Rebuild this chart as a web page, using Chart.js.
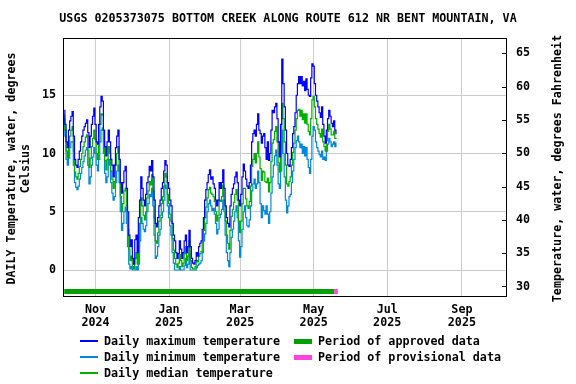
<!DOCTYPE html>
<html>
<head>
<meta charset="utf-8">
<script src="https://cdn.jsdelivr.net/npm/chart.js@4.4.1/dist/chart.umd.min.js"></script>
<style>
  html, body { margin: 0; padding: 0; background: #fff; }
</style>
</head>
<body>
<canvas id="chart" width="576" height="384"></canvas>
<script>
// x values are days after 2024-10-01
const chartTitle = 'USGS 0205373075 BOTTOM CREEK ALONG ROUTE 612 NR BENT MOUNTAIN, VA';
const firstDay = 5;

const dailyMax = [
  13.7, 12.5, 11.0, 10.5, 12.0, 12.8, 13.2, 13.6, 11.5, 9.5,
  9.0, 8.8, 9.5, 10.2, 11.0, 11.5, 12.0, 12.3, 12.6, 12.9,
  11.8, 10.5, 11.5, 12.5, 13.2, 13.9, 12.5, 11.0, 10.8, 12.5,
  14.0, 14.9, 14.5, 12.0, 10.6, 9.8, 11.0, 12.0, 11.0, 9.5,
  9.0, 8.0, 9.0, 10.5, 11.5, 12.0, 9.5, 7.5, 6.6, 7.5,
  8.5, 8.9, 7.0, 5.0, 3.0, 2.0, 2.6, 1.0, 0.5, 2.6,
  3.0, 1.5, 4.5, 6.0, 8.0, 7.0, 6.0, 5.5, 6.5, 7.5,
  8.0, 8.9, 8.5, 9.4, 8.0, 6.0, 4.0, 3.7, 4.5, 5.5,
  6.0, 7.0, 7.5, 8.5, 9.4, 9.0, 7.5, 7.0, 6.0, 5.5,
  4.0, 3.0, 2.5, 1.5, 1.0, 1.4, 2.5, 1.8, 1.0, 1.5,
  2.5, 3.0, 1.5, 2.0, 3.4, 2.0, 1.0, 0.6, 0.5, 0.8,
  1.5, 1.2, 2.0, 2.3, 2.5, 3.5, 4.5, 6.0, 6.9, 7.5,
  8.2, 8.6, 7.8, 8.0, 7.4, 7.0, 6.0, 5.5, 6.0, 7.5,
  7.0, 7.5, 8.6, 7.0, 5.5, 4.5, 4.0, 3.7, 5.5, 6.5,
  7.0, 7.4, 8.0, 8.4, 7.5, 6.0, 5.5, 6.5, 8.0, 9.1,
  8.5, 7.8, 7.2, 7.0, 7.5, 9.0, 11.0, 11.7, 12.0, 11.5,
  12.5, 13.4, 12.0, 11.7, 10.9, 11.5, 11.7, 10.5, 9.5, 11.0,
  9.4, 10.0, 12.0, 13.7, 13.5, 14.0, 14.3, 13.0, 11.0, 9.7,
  12.5, 18.1, 16.0, 14.0, 12.0, 10.0, 9.0, 8.9, 9.5, 10.5,
  11.7, 12.3, 13.5, 15.0, 16.0, 16.6, 16.0, 16.6, 15.8, 16.2,
  15.4, 16.4, 15.5, 15.0, 14.9, 16.5, 17.7, 17.5, 16.0, 15.0,
  14.5, 14.0, 13.5, 13.1, 14.0, 12.5, 11.5, 10.9, 12.0, 13.0,
  13.7, 13.2, 12.6, 12.3, 12.8, 12.0, 11.7
];

const dailyMin = [
  13.0, 11.5, 9.5, 9.0, 9.6, 10.5, 11.0, 11.0, 9.0, 7.5,
  7.1, 6.9, 7.2, 7.8, 8.3, 8.8, 9.3, 9.8, 10.3, 10.5,
  9.0, 7.4, 8.0, 9.0, 9.7, 10.5, 10.0, 9.0, 8.5, 9.5,
  11.0, 12.0, 12.2, 10.0, 8.3, 7.5, 8.0, 9.5, 9.0, 7.5,
  6.6, 6.0, 6.3, 7.5, 8.5, 9.0, 7.5, 5.0, 3.4, 4.0,
  5.0, 5.4, 4.0, 2.0, 0.5, 0.1, 0.3, 0.0, 0.0, 0.0,
  0.3, 0.0, 0.5, 2.5, 4.5, 4.0, 3.5, 3.3, 3.8, 5.0,
  5.7, 6.5, 6.3, 7.0, 5.5, 3.0, 1.0, 1.2, 2.0, 3.0,
  3.5, 4.5, 5.0, 6.0, 7.3, 7.0, 5.5, 4.5, 3.8, 3.0,
  1.5, 0.6, 0.0, 0.0, 0.0, 0.0, 0.3, 0.0, 0.0, 0.0,
  0.4, 1.0, 0.2, 0.5, 1.4, 0.0, 0.0, 0.0, 0.0, 0.0,
  0.2, 0.4, 0.5, 0.6, 0.8, 1.5, 2.5, 3.1, 4.0, 5.0,
  5.7, 6.0, 5.5, 5.1, 5.3, 4.8, 4.0, 3.1, 3.5, 4.5,
  4.8, 5.2, 6.0, 5.0, 3.0, 1.5, 0.8, 0.3, 1.5, 2.8,
  3.5, 4.2, 5.0, 5.5, 4.5, 2.5, 1.1, 2.0, 3.5, 5.0,
  5.5, 4.5, 3.8, 3.7, 4.3, 5.5, 6.8, 7.4, 7.8, 7.0,
  7.4, 8.5, 7.5, 5.7, 4.5, 5.5, 5.1, 4.8, 5.5, 4.8,
  4.0, 5.0, 6.6, 8.0, 9.0, 9.8, 10.3, 9.0, 7.4, 7.0,
  8.5, 12.0, 10.0, 8.0, 6.0, 4.9, 5.5, 6.3, 6.5, 7.5,
  8.5, 9.5, 10.5, 11.1, 11.5, 11.0, 10.5, 10.8, 10.0, 10.6,
  9.8, 10.5, 9.5, 8.8, 8.3, 9.5, 11.5, 12.3, 12.0, 11.0,
  10.5, 10.2, 9.9, 9.7, 10.2, 9.5, 9.7, 9.4, 10.2, 10.8,
  11.3, 11.0, 10.6, 10.8, 11.0, 10.6, 10.9
];

const dailyMedian = [
  13.3, 12.0, 10.2, 9.6, 10.6, 11.5, 12.0, 12.3, 10.2, 8.4,
  8.0, 7.8, 8.3, 8.9, 9.5, 10.0, 10.6, 11.0, 11.4, 11.6,
  10.3, 8.8, 9.6, 10.6, 11.3, 12.0, 11.2, 10.0, 9.5, 11.0,
  12.5, 13.4, 13.3, 11.0, 9.4, 8.6, 9.5, 10.6, 10.0, 8.5,
  7.8, 7.0, 7.6, 9.0, 10.0, 10.6, 8.5, 6.3, 5.0, 5.7,
  6.8, 7.0, 5.5, 3.5, 1.8, 0.8, 1.2, 0.3, 0.1, 1.0,
  1.5, 0.5, 2.0, 4.0, 6.2, 5.5, 4.7, 4.3, 5.0, 6.2,
  6.8, 7.6, 7.3, 8.2, 6.8, 4.5, 2.5, 2.3, 3.2, 4.2,
  4.7, 5.7, 6.3, 7.2, 8.3, 8.0, 6.5, 5.7, 4.8, 4.2,
  2.7, 1.7, 1.0, 0.5, 0.2, 0.6, 1.3, 0.8, 0.3, 0.6,
  1.4, 2.0, 0.8, 1.2, 2.5, 0.8, 0.2, 0.1, 0.1, 0.3,
  0.8, 0.7, 1.2, 1.4, 1.6, 2.4, 3.4, 4.5, 5.4, 6.2,
  6.9, 7.1, 6.6, 6.5, 6.3, 5.9, 5.0, 4.2, 4.7, 6.0,
  5.9, 6.3, 7.3, 6.0, 4.2, 3.0, 2.3, 1.8, 3.4, 4.6,
  5.2, 5.8, 6.5, 6.9, 6.0, 4.2, 3.2, 4.2, 5.7, 7.0,
  7.0, 6.1, 5.5, 5.3, 5.9, 7.2, 8.9, 9.5, 10.0, 9.2,
  10.0, 11.0, 9.7, 8.7, 7.7, 8.5, 8.4, 7.6, 7.5, 7.9,
  6.7, 7.5, 9.3, 10.9, 11.2, 11.9, 12.3, 11.0, 9.2, 8.4,
  10.5, 14.3, 13.0, 11.0, 9.0, 7.4, 7.2, 7.6, 8.0, 9.0,
  10.1, 10.9, 12.0, 13.0, 13.7, 13.8, 13.2, 13.7, 12.9, 13.4,
  12.6, 13.4, 12.5, 11.9, 11.6, 13.0, 14.6, 14.9, 14.0, 13.0,
  12.5, 12.1, 11.7, 11.4, 12.1, 11.0, 10.6, 10.2, 11.1, 11.9,
  12.5, 12.1, 11.6, 11.6, 11.9, 11.3, 11.3
];

const approvedPeriod = [5, 229];
const provisionalPeriod = [229, 232];

const tickDays = [31, 92, 151, 212, 273, 335];
const tickMonths = ['Nov', 'Jan', 'Mar', 'May', 'Jul', 'Sep'];
const tickYears = ['2024', '2025', '2025', '2025', '2025', '2025'];
const celsiusTicks = [0, 5, 10, 15];
const fahrenheitTicks = [30, 35, 40, 45, 50, 55, 60, 65];

const FONT = '"DejaVu Sans Mono", "Liberation Mono", monospace';
const FONT_SIZE = 11.7;

const seriesColors = ['#0000ff', '#0088dd', '#00b000'];

function toPoints(values) {
  return values.map((v, i) => ({ x: firstDay + i, y: v }));
}

const decorations = {
  id: 'decorations',
  beforeDraw(chart) {
    const ctx = chart.ctx;
    ctx.save();
    ctx.fillStyle = '#fff';
    ctx.fillRect(0, 0, chart.width, chart.height);
    ctx.restore();
  },
  afterDraw(chart) {
    const { ctx, chartArea: a, scales } = chart;
    const x = scales.x;
    ctx.save();

    // approval status bars along the bottom
    const barTop = a.bottom - 7;
    const bar = (period, colour) => {
      const x0 = x.getPixelForValue(period[0]);
      const x1 = x.getPixelForValue(period[1]);
      ctx.fillStyle = colour;
      ctx.fillRect(x0, barTop, x1 - x0, 5);
    };
    bar(approvedPeriod, '#00a000');
    bar(provisionalPeriod, '#ff44dd');

    // frame
    ctx.strokeStyle = '#000';
    ctx.lineWidth = 1;
    ctx.strokeRect(Math.round(a.left) - 0.5, Math.round(a.top) - 0.5,
      Math.round(a.right - a.left) + 1, Math.round(a.bottom - a.top) + 1);

    // inward ticks on right axis
    const y2 = scales.y2;
    ctx.beginPath();
    fahrenheitTicks.forEach(v => {
      const py = Math.round(y2.getPixelForValue(v)) + 0.5;
      ctx.moveTo(a.right - 4, py);
      ctx.lineTo(a.right, py);
    });
    ctx.stroke();

    // texts
    ctx.fillStyle = '#000';
    ctx.font = 'bold ' + FONT_SIZE + 'px ' + FONT;
    ctx.textAlign = 'center';
    ctx.textBaseline = 'middle';
    ctx.fillText(chartTitle, 288, 19);

    const midY = (a.top + a.bottom) / 2 + 1;
    ctx.save();
    ctx.translate(12, midY);
    ctx.rotate(-Math.PI / 2);
    ctx.fillText('DAILY Temperature, water, degrees', 0, 0);
    ctx.restore();
    ctx.save();
    ctx.translate(26, midY);
    ctx.rotate(-Math.PI / 2);
    ctx.fillText('Celsius', 0, 0);
    ctx.restore();
    ctx.save();
    ctx.translate(558, midY);
    ctx.rotate(-Math.PI / 2);
    ctx.fillText('Temperature, water, degrees Fahrenheit', 0, 0);
    ctx.restore();

    // legend
    ctx.textAlign = 'left';
    const rows = [341, 357, 373];
    chart.data.datasets.forEach((ds, i) => {
      ctx.fillStyle = seriesColors[i];
      ctx.fillRect(80, rows[i] - 1, 18, 2);
      ctx.fillStyle = '#000';
      ctx.fillText(ds.label, 104, rows[i] + 1);
    });
    [['Period of approved data', '#00a000'], ['Period of provisional data', '#ff44dd']].forEach((item, i) => {
      ctx.fillStyle = item[1];
      ctx.fillRect(294, rows[i] - 2, 18, 5);
      ctx.fillStyle = '#000';
      ctx.fillText(item[0], 318, rows[i] + 1);
    });

    ctx.restore();
  }
};

const tickFont = { family: FONT, size: FONT_SIZE, weight: 'bold', lineHeight: 1.1 };

new Chart(document.getElementById('chart'), {
  type: 'line',
  data: {
    datasets: [
      { label: 'Daily maximum temperature', data: toPoints(dailyMax), borderColor: seriesColors[0], order: 1 },
      { label: 'Daily minimum temperature', data: toPoints(dailyMin), borderColor: seriesColors[1], order: 3 },
      { label: 'Daily median temperature', data: toPoints(dailyMedian), borderColor: seriesColors[2], order: 2 }
    ].map(ds => Object.assign(ds, { borderWidth: 1.2, pointRadius: 0, fill: false, stepped: 'middle' }))
  },
  options: {
    responsive: false,
    animation: false,
    devicePixelRatio: 1,
    layout: { padding: { top: 39, left: 0, right: 0, bottom: 0 } },
    plugins: { legend: { display: false }, tooltip: { enabled: false }, title: { display: false } },
    scales: {
      x: {
        type: 'linear',
        min: 4.8,
        max: 371.6,
        afterBuildTicks: axis => { axis.ticks = tickDays.map(v => ({ value: v })); },
        afterFit: s => { s.height = 88; },
        grid: { color: '#cccccc', drawTicks: false },
        border: { display: false },
        ticks: {
          autoSkip: false, maxRotation: 0, padding: 8, color: '#000', font: tickFont,
          callback: (v, i) => [tickMonths[i], tickYears[i]]
        }
      },
      y: {
        position: 'left',
        min: -2.23,
        max: 19.83,
        afterBuildTicks: axis => { axis.ticks = celsiusTicks.map(v => ({ value: v })); },
        afterFit: s => { s.width = 64; },
        grid: { color: '#cccccc', drawTicks: false },
        border: { display: false },
        ticks: { padding: 8, color: '#000', font: tickFont, callback: v => String(v) }
      },
      y2: {
        position: 'right',
        min: 28.57,
        max: 67.16,
        afterBuildTicks: axis => { axis.ticks = fahrenheitTicks.map(v => ({ value: v })); },
        afterFit: s => { s.width = 70; },
        grid: { drawOnChartArea: false, drawTicks: false },
        border: { display: false },
        ticks: { padding: 10, color: '#000', font: tickFont, callback: v => String(v) }
      }
    }
  },
  plugins: [decorations]
});
</script>
</body>
</html>
